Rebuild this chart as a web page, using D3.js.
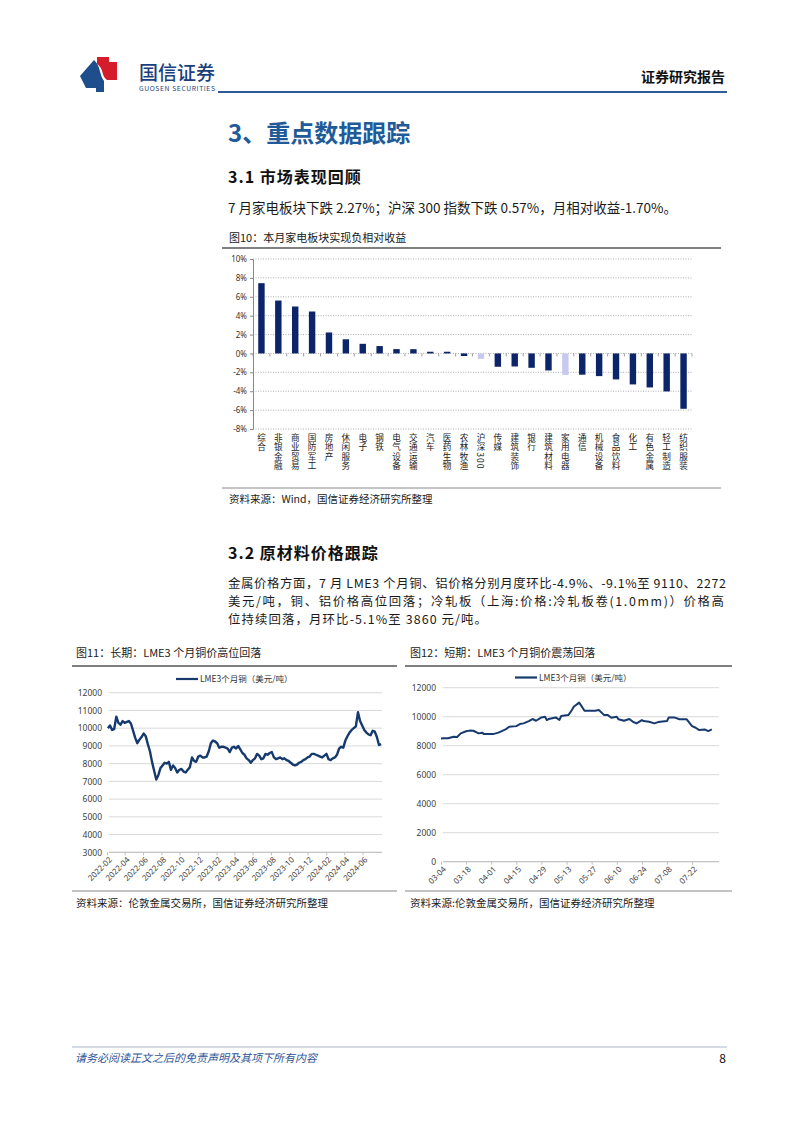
<!DOCTYPE html>
<html>
<head>
<meta charset="utf-8">
<script src="https://cdn.jsdelivr.net/npm/d3@7"></script>
<style>
  body { margin: 0; background: #fff; }
  svg { display: block; }
  text { font-family: "Noto Sans CJK SC", "Noto Sans", sans-serif; }
</style>
</head>
<body>
<div id="page"></div>
<script>
// ---- data ----
const barCats = ["综合", "非银金融", "商业贸易", "国防军工", "房地产", "休闲服务", "电子", "钢铁",
  "电气设备", "交通运输", "汽车", "医药生物", "农林牧渔", "沪深300", "传媒", "建筑装饰", "银行",
  "建筑材料", "家用电器", "通信", "机械设备", "食品饮料", "化工", "有色金属", "轻工制造", "纺织服装"];
const barVals = [7.44, 5.6, 4.97, 4.44, 2.22, 1.5, 1.02, 0.78, 0.46, 0.45, 0.18, 0.18, -0.27, -0.57,
  -1.41, -1.38, -1.52, -1.8, -2.27, -2.25, -2.4, -2.75, -3.28, -3.6, -4.02, -5.86];
const barLight = ["沪深300", "家用电器"];
const barTicks = [10, 8, 6, 4, 2, 0, -2, -4, -6, -8];

// LME3 copper, weekly (Fridays) from 2022-02-04
const longStart = "2022-02-04";
const longVals = [
  10000, 10150, 9900, 9950, 10650, 10300, 10200, 10400, 10300, 10350, 10400, 10250, 9850,
  9450, 9150, 9350, 9500, 9700, 9550, 9100, 8700, 8100, 7600, 7100, 7350, 7750,
  7900, 8050, 8000, 8100, 7650, 7900, 7750, 7500, 7650, 7700, 7550, 7500, 7650,
  7800, 8350, 8150, 8100, 8400, 8450, 8350, 8350, 8400,
  8700, 9150, 9300, 9250, 9150, 8900, 8950, 8950, 8900, 8850, 8650, 8900, 8950,
  8850, 9000, 8800, 8600, 8500, 8300, 8200, 8050, 8200, 8300, 8550, 8450, 8250,
  8300, 8550, 8500, 8600, 8650, 8350, 8250, 8300, 8350, 8250, 8300, 8200, 8150,
  8050, 7950, 7900, 7950, 8050, 8100, 8200, 8250, 8350, 8400, 8550, 8550, 8500,
  8450, 8400, 8350, 8450, 8550, 8250, 8200, 8300, 8350, 8500, 8850, 8950, 8900,
  9300, 9550, 9750, 9900, 10000, 10100, 10900, 10400, 10150, 9900, 9750, 9650, 9600,
  9850, 9800, 9500, 9050, 9100
];
const longTicks = ["2022-02", "2022-04", "2022-06", "2022-08", "2022-10", "2022-12", "2023-02",
  "2023-04", "2023-06", "2023-08", "2023-10", "2023-12", "2024-02", "2024-04", "2024-06"];
const longYTicks = [3000, 4000, 5000, 6000, 7000, 8000, 9000, 10000, 11000, 12000];

// LME3 copper, 2024 short window
const shortDates = ["03-04", "03-06", "03-08", "03-11", "03-13", "03-15", "03-18", "03-20", "03-22",
  "03-25", "03-27", "03-28", "04-02", "04-05", "04-09", "04-11", "04-15", "04-17", "04-19", "04-22",
  "04-24", "04-26", "04-29", "05-01", "05-02", "05-03", "05-07", "05-09", "05-10", "05-14", "05-16",
  "05-17", "05-20", "05-21", "05-23", "05-24", "05-29", "05-31", "06-03", "06-05", "06-07", "06-10",
  "06-11", "06-14", "06-17", "06-19", "06-21", "06-24", "06-25", "06-28", "07-01", "07-03", "07-08",
  "07-09", "07-12", "07-15", "07-19", "07-22", "07-24", "07-26", "07-29", "07-31", "08-02"];
const shortVals = [8500, 8520, 8510, 8620, 8600, 8850, 9000, 9040, 9030,
  8850, 8900, 8800, 8800, 8900, 9120, 9310, 9350, 9490, 9540, 9700,
  9840, 9720, 9950, 10000, 9770, 9840, 9950, 9770, 10050, 10110, 10460,
  10690, 10970, 10800, 10410, 10410, 10410, 10460, 10110, 10110, 9930, 10000,
  9820, 9720, 9840, 9650, 9540, 9770, 9700, 9650, 9540, 9630, 9700,
  9950, 9950, 9820, 9820, 9350, 9240, 9080, 9120, 9010, 9120];
const shortTicks = ["03-04", "03-18", "04-01", "04-15", "04-29", "05-13", "05-27", "06-10",
  "06-24", "07-08", "07-22"];
const shortYTicks = [0, 2000, 4000, 6000, 8000, 10000, 12000];

// ---- page ----
const W = 802, H = 1133;
const svg = d3.select("#page").append("svg").attr("width", W).attr("height", H)
  .style("background", "#fff");

function txt(g, x, y, s, o = {}) {
  return g.append("text").attr("x", x).attr("y", y).text(s)
    .attr("font-size", o.size || 12)
    .attr("font-weight", o.weight || "normal")
    .attr("fill", o.fill || "#1a1a1a")
    .attr("text-anchor", o.anchor || "start")
    .attr("font-style", o.style || "normal");
}
function hline(x1, x2, y, color, w) {
  svg.append("line").attr("x1", x1).attr("x2", x2).attr("y1", y).attr("y2", y)
    .attr("stroke", color).attr("stroke-width", w);
}

// header
const logo = svg.append("g");
logo.append("path").attr("d", "M97,57 L109,57 L109,62 L117,62 L117,80 L107,80 C101,76 104,68 97,64 Z")
  .attr("fill", "#d51c2a");
logo.append("path").attr("d", "M80,76 L94,60 C101,66 99,75 104,81 L104,92 L96,92 L96,88 L86,88 Z")
  .attr("fill", "#1f4e8c");
txt(svg, 139, 80, "国信证券", { size: 19, fill: "#1a3f7c", weight: 500 });
txt(svg, 139, 91, "GUOSEN SECURITIES", { size: 6.8, fill: "#1a3f7c" }).attr("textLength", 76);
txt(svg, 725, 82, "证券研究报告", { size: 14, weight: "bold", anchor: "end", fill: "#111" });
hline(218, 727, 92, "#2f5b9a", 2);

// section texts
txt(svg, 228, 142, "3、重点数据跟踪", { size: 24, weight: "bold", fill: "#1f5b98" });
txt(svg, 228, 183, "3.1  市场表现回顾", { size: 16, weight: "bold", fill: "#111" }).attr("letter-spacing", 1);
txt(svg, 228, 213, "7 月家电板块下跌 2.27%；沪深 300 指数下跌 0.57%，月相对收益-1.70%。", { size: 13.5 })
  .attr("textLength", 449).attr("lengthAdjust", "spacing");

// ---- figure 10: bar chart ----
txt(svg, 229, 242, "图10：本月家电板块实现负相对收益", { size: 11 });
hline(222, 721, 248, "#555", 1.5);

const bx = d3.scaleBand().domain(barCats).range([253, 692]).padding(0);
const by = d3.scaleLinear().domain([-8, 10]).range([429, 259]);
const bar = svg.append("g");

bar.append("g").selectAll("line").data(barTicks).join("line")
  .attr("x1", 253).attr("x2", 692).attr("y1", d => by(d)).attr("y2", d => by(d))
  .attr("stroke", "#9a9a9a").attr("stroke-width", 0.8).attr("stroke-dasharray", "1,1.5");

const yAxisB = bar.append("g").attr("transform", "translate(253,0)")
  .call(d3.axisLeft(by).tickValues(barTicks).tickFormat(d => d + "%").tickSize(3));
yAxisB.select(".domain").attr("stroke", "#888");
yAxisB.selectAll(".tick line").attr("stroke", "#888");
yAxisB.selectAll("text").attr("font-size", 8).attr("fill", "#333")
  .style("font-family", "'Noto Sans','DejaVu Sans',sans-serif");

const bw = bx.bandwidth() * 0.38;
bar.append("g").selectAll("rect").data(barCats).join("rect")
  .attr("x", d => bx(d) + (bx.bandwidth() - bw) / 2)
  .attr("width", bw)
  .attr("y", (d, i) => by(Math.max(0, barVals[i])))
  .attr("height", (d, i) => Math.abs(by(barVals[i]) - by(0)))
  .attr("fill", d => barLight.includes(d) ? "#c7c9f1" : "#0c2469");

// small category ticks along the zero line
bar.append("g").selectAll("line").data(d3.range(barCats.length + 1)).join("line")
  .attr("x1", i => 253 + i * bx.step()).attr("x2", i => 253 + i * bx.step())
  .attr("y1", by(0)).attr("y2", by(0) + 3).attr("stroke", "#888").attr("stroke-width", 0.8);

// vertical category labels (one vertical text per category)
bar.append("g").selectAll("text").data(barCats).join("text")
  .attr("x", d => bx(d) + bx.bandwidth() / 2)
  .attr("y", 433)
  .style("writing-mode", "vertical-rl")
  .attr("font-size", 8.6)
  .attr("letter-spacing", 1)
  .attr("fill", "#222")
  .text(d => d);

hline(222, 721, 488, "#888", 1);
txt(svg, 229, 503, "资料来源：Wind，国信证券经济研究所整理", { size: 10.5 });

// ---- 3.2 texts ----
txt(svg, 228, 559, "3.2  原材料价格跟踪", { size: 16, weight: "bold", fill: "#111" }).attr("letter-spacing", 1);
const para = svg.append("text").attr("font-size", 12.4).attr("fill", "#1a1a1a");
[
  ["金属价格方面，7 月 LME3 个月铜、铝价格分别月度环比-4.9%、-9.1%至 9110、2272", 588, 498],
  ["美元/吨，铜、铝价格高位回落；冷轧板（上海:价格:冷轧板卷(1.0mm)）价格高", 606, 496],
  ["位持续回落，月环比-5.1%至 3860 元/吨。", 624, 259]
].forEach(([s, y, len]) => {
  para.append("tspan").attr("x", 228).attr("y", y)
    .attr("textLength", len).attr("lengthAdjust", "spacing").text(s);
});

// ---- line chart helper ----
function lineChart(o) {
  const g = svg.append("g");
  txt(g, o.titleX, 657, o.title, { size: 11 });
  hline(o.frame[0], o.frame[1], 666, "#555", 1.5);
  hline(o.frame[0], o.frame[1], 891, "#888", 1);
  txt(g, o.titleX, 907, o.source, { size: 10.5 });

  g.append("g").selectAll("line").data(o.yTicks).join("line")
    .attr("x1", o.gridX[0]).attr("x2", o.gridX[1])
    .attr("y1", d => o.y(d)).attr("y2", d => o.y(d))
    .attr("stroke", "#d9d9d9").attr("stroke-width", 1);

  const ya = g.append("g").attr("transform", `translate(${o.gridX[0] - 4},0)`)
    .call(d3.axisLeft(o.y).tickValues(o.yTicks).tickSize(0).tickFormat(d3.format("d")));
  ya.select(".domain").remove();
  ya.selectAll("text").attr("font-size", 8.5).attr("fill", "#404040").attr("x", -3)
    .style("font-family", "'Noto Sans','DejaVu Sans',sans-serif");

  const base = o.y.range()[0];
  const xa = g.append("g").attr("transform", `translate(0,${base})`)
    .call(d3.axisBottom(o.x).tickValues(o.xTicks).tickFormat(o.xFmt).tickSize(3));
  xa.select(".domain").attr("stroke", "#bfbfbf").attr("d", `M${o.gridX[0]},0H${o.gridX[1]}`);
  xa.selectAll(".tick line").attr("stroke", "#bfbfbf");
  xa.selectAll("text").attr("font-size", 8).attr("fill", "#404040")
    .attr("text-anchor", "end").attr("x", 0).attr("y", 0).attr("dy", "0.35em")
    .attr("transform", `translate(3,${o.labOff}) rotate(-45)`)
    .style("font-family", "'Noto Sans','DejaVu Sans',sans-serif");

  g.append("path").datum(o.data)
    .attr("d", d3.line().x(d => o.x(d[0])).y(d => o.y(d[1])))
    .attr("fill", "none").attr("stroke", "#173a6e").attr("stroke-width", o.lw)
    .attr("stroke-linejoin", "round");

  hline(o.legend[0], o.legend[0] + 22, o.legend[1], "#173a6e", 2.2);
  txt(g, o.legend[0] + 24, o.legend[1] + 3, "LME3个月铜（美元/吨）", { size: 8.5, fill: "#333" });
}

// figure 11
const pDay = d3.timeParse("%Y-%m-%d");
const pMonth = d3.timeParse("%Y-%m");
const longDates = longVals.map((v, i) => d3.timeWeek.offset(pDay(longStart), i));
lineChart({
  title: "图11：长期：LME3 个月铜价高位回落",
  source: "资料来源：伦敦金属交易所，国信证券经济研究所整理",
  titleX: 76, frame: [72, 397], gridX: [109, 382],
  x: d3.scaleTime().domain([pDay("2022-02-01"), pDay("2024-08-05")]).range([107, 382]),
  y: d3.scaleLinear().domain([3000, 12000]).range([852.3, 692.7]),
  yTicks: longYTicks,
  xTicks: longTicks.map(pMonth), xFmt: d3.timeFormat("%Y-%m"), labOff: 6,
  data: longVals.map((v, i) => [longDates[i], v]), lw: 2.4,
  legend: [176, 679]
});

// figure 12
const pMD = s => pDay("2024-" + s);
lineChart({
  title: "图12：短期：LME3 个月铜价震荡回落",
  source: "资料来源:伦敦金属交易所，国信证券经济研究所整理",
  titleX: 410, frame: [405, 732], gridX: [443, 719],
  x: d3.scaleTime().domain([pMD("03-04"), pMD("08-06")]).range([441, 719]),
  y: d3.scaleLinear().domain([0, 12000]).range([861.7, 687.7]),
  yTicks: shortYTicks,
  xTicks: shortTicks.map(pMD), xFmt: d3.timeFormat("%m-%d"), labOff: 6,
  data: shortVals.map((v, i) => [pMD(shortDates[i]), v]), lw: 2,
  legend: [515, 677.5]
});

// footer
hline(72, 727, 1047, "#a9b6c8", 1);
txt(svg, 75, 1062, "请务必阅读正文之后的免责声明及其项下所有内容", { size: 11, fill: "#2f5597", style: "italic" });
txt(svg, 726, 1063, "8", { size: 12, anchor: "end", fill: "#111" });
</script>
</body>
</html>
